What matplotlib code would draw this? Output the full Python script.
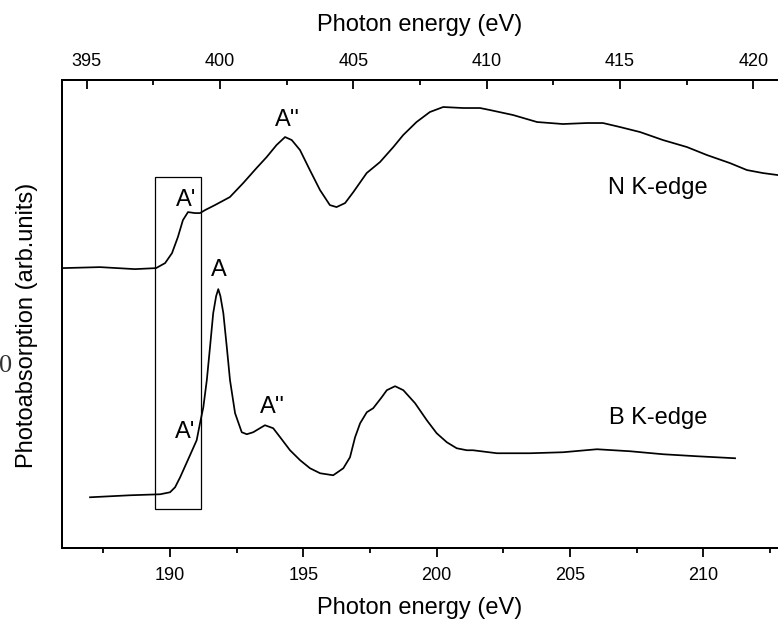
import numpy as np
import matplotlib
matplotlib.use("Agg")
import matplotlib.pyplot as plt
from matplotlib.patches import Rectangle
from matplotlib.ticker import MultipleLocator

plt.rcParams['font.family'] = ['Liberation Sans', 'DejaVu Sans']

# --- N K-edge spectrum (top axis, eV) ---
n_energy = [394.07, 395.50, 396.81, 397.60, 397.94, 398.20, 398.42, 398.61, 398.80,
            399.06, 399.25, 399.44, 399.81, 400.37, 400.87, 401.37, 401.75, 402.12,
            402.44, 402.69, 403.00, 403.37, 403.75, 404.12, 404.37, 404.69, 405.00,
            405.50, 406.00, 406.50, 406.87, 407.37, 407.87, 408.37, 409.12, 409.75,
            410.12, 410.99, 411.89, 412.86, 413.76, 414.36, 415.00, 415.75, 416.61,
            417.51, 418.26, 419.12, 419.76, 420.36, 420.92]
n_signal = [2.80, 2.81, 2.79, 2.80, 2.85, 2.95, 3.11, 3.28, 3.36,
            3.35, 3.35, 3.38, 3.43, 3.51, 3.65, 3.80, 3.91, 4.03,
            4.11, 4.08, 3.98, 3.78, 3.58, 3.43, 3.41, 3.45, 3.56,
            3.75, 3.86, 4.01, 4.13, 4.26, 4.36, 4.41, 4.40, 4.40,
            4.38, 4.33, 4.26, 4.24, 4.25, 4.25, 4.21, 4.16, 4.08,
            4.01, 3.93, 3.85, 3.78, 3.75, 3.73]

# --- B K-edge spectrum (bottom axis, eV) ---
b_energy = [187.00, 188.50, 189.63, 190.00, 190.19, 190.38, 190.75, 191.00, 191.125,
            191.25, 191.38, 191.50, 191.62, 191.73, 191.81, 191.89, 192.00, 192.13,
            192.25, 192.44, 192.69, 192.88, 193.12, 193.56, 193.87, 194.13, 194.50,
            194.88, 195.25, 195.63, 196.12, 196.50, 196.75, 196.94, 197.13, 197.38,
            197.62, 197.94, 198.13, 198.44, 198.75, 199.19, 199.63, 200.00, 200.38,
            200.75, 201.13, 201.36, 202.26, 203.50, 204.74, 206.01, 207.25, 208.49,
            209.76, 211.19]
b_signal = [0.51, 0.53, 0.54, 0.56, 0.61, 0.71, 0.93, 1.08, 1.25,
            1.41, 1.68, 2.01, 2.35, 2.52, 2.59, 2.52, 2.35, 2.01,
            1.68, 1.35, 1.16, 1.14, 1.16, 1.23, 1.20, 1.11, 0.98,
            0.88, 0.80, 0.75, 0.73, 0.80, 0.91, 1.11, 1.25, 1.36,
            1.40, 1.51, 1.58, 1.62, 1.58, 1.45, 1.28, 1.15, 1.06,
            1.00, 0.98, 0.98, 0.95, 0.95, 0.96, 0.99, 0.97, 0.94,
            0.92, 0.90]

offset = 208.125          # N-edge axis = B-edge axis + offset
xlim_b = (185.95, 212.80)
box_x = (189.44, 191.15)
box_y = (0.39, 3.71)

fig = plt.figure(figsize=(7.78, 6.24), dpi=100)
ax = fig.add_axes([0.0797, 0.1213, 0.9203, 0.7505])
ax2 = ax.twiny()

ax.plot(b_energy, b_signal, color='black', lw=1.25)
ax2.plot(n_energy, n_signal, color='black', lw=1.25)

ax.set_xlim(xlim_b)
ax2.set_xlim(xlim_b[0] + offset, xlim_b[1] + offset)
ax.set_ylim(0, 4.68)
ax.set_yticks([])

ax.add_patch(Rectangle((box_x[0], box_y[0]), box_x[1] - box_x[0], box_y[1] - box_y[0],
                       fill=False, edgecolor='black', lw=0.9))

for a in (ax, ax2):
    a.spines['right'].set_visible(False)
    for s in a.spines.values():
        s.set_linewidth(1.4)

ax.xaxis.set_major_locator(MultipleLocator(5))
ax.xaxis.set_minor_locator(MultipleLocator(2.5))
ax.tick_params(axis='x', which='major', direction='out', length=6.5, width=1.3,
               labelsize=13, pad=7)
ax.tick_params(axis='x', which='minor', direction='out', length=3.5, width=1.3)

ax2.xaxis.set_major_locator(MultipleLocator(5))
ax2.xaxis.set_minor_locator(MultipleLocator(2.5))
ax2.tick_params(axis='x', which='major', direction='in', length=6.5, width=1.3,
                labelsize=13, pad=7)
ax2.tick_params(axis='x', which='minor', direction='in', length=3.5, width=1.3)

ax.set_xlabel("Photon energy (eV)", fontsize=17, labelpad=9)
ax2.set_xlabel("Photon energy (eV)", fontsize=17, labelpad=16)
ax.set_ylabel("Photoabsorption (arb.units)", fontsize=17)
ax.yaxis.set_label_coords(-0.034, 0.476)

# peak labels
ax2.text(402.52, 4.28, "A''", fontsize=17, ha='center', va='center')
ax2.text(398.72, 3.48, "A'", fontsize=17, ha='center', va='center')
ax2.text(416.4, 3.60, "N K-edge", fontsize=17, ha='center', va='center')
ax.text(191.84, 2.78, "A", fontsize=17, ha='center', va='center')
ax.text(190.56, 1.16, "A'", fontsize=17, ha='center', va='center')
ax.text(193.83, 1.41, "A''", fontsize=17, ha='center', va='center')
ax.text(208.3, 1.30, "B K-edge", fontsize=17, ha='center', va='center')

# stray glyph at the left edge
fig.text(12 / 778, 1 - 366 / 624, "0", fontsize=19, family='Liberation Serif',
         color='#333333', ha='right', va='center')

fig.savefig("out.png", dpi=100)
